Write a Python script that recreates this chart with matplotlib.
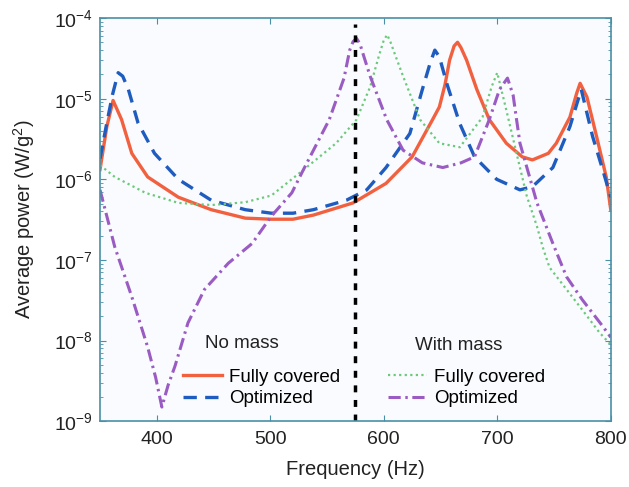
import matplotlib
matplotlib.use('Agg')
from matplotlib import pyplot
from matplotlib.lines import Line2D

# no mass, fully covered
red_freq = [350, 356, 361.5, 369, 378, 392, 419, 448, 478, 501, 520, 538, 573, 602, 625, 643, 649,
            654, 658, 662, 665, 668, 673, 682, 693, 708, 722, 731, 745, 752, 764, 770, 773, 779,
            787.5, 796, 800]
red_power = [1.32e-6, 4.5e-6, 9.5e-6, 5.5e-6, 2.1e-6, 1.07e-6, 6.0e-7, 4.2e-7, 3.3e-7, 3.2e-7, 3.2e-7,
             3.6e-7, 5.1e-7, 8.9e-7, 1.9e-6, 5.5e-6, 7.9e-6, 1.5e-5, 3.0e-5, 4.5e-5, 5.0e-5, 4.3e-5,
             3.0e-5, 1.3e-5, 5.5e-6, 2.8e-6, 1.9e-6, 1.74e-6, 2.1e-6, 2.8e-6, 5.9e-6, 1.17e-5,
             1.55e-5, 1.05e-5, 3.4e-6, 1.07e-6, 4.2e-7]

# no mass, optimized
blue_freq = [350, 356, 361, 366, 370, 375, 383.5, 398, 419, 448, 478, 501, 520, 538, 567, 585, 602,
             623, 634, 641, 645, 649, 655.5, 667, 680, 699.5, 720, 731, 749, 764, 774, 784, 793, 800]
blue_power = [1.8e-6, 5.0e-6, 1.12e-5, 2.1e-5, 1.9e-5, 1.3e-5, 5.0e-6, 2.1e-6, 1.0e-6, 5.5e-7, 4.2e-7,
              3.8e-7, 3.8e-7, 4.2e-7, 5.5e-7, 7.4e-7, 1.4e-6, 3.7e-6, 1.3e-5, 2.8e-5, 4.0e-5, 3.3e-5,
              1.55e-5, 4.9e-6, 1.9e-6, 1.0e-6, 7.4e-7, 8.1e-7, 1.4e-6, 4.5e-6, 1.3e-5, 3.4e-6,
              1.3e-6, 6.0e-7]

# with mass, fully covered
green_freq = [350, 363, 390, 419, 448.5, 478, 501, 529, 558, 576, 588, 596, 600, 603, 606, 610, 617,
              632, 649, 667, 687, 695, 700, 708, 717, 726, 735, 740, 746, 760, 775, 790, 800]
green_power = [1.5e-6, 1.07e-6, 6.8e-7, 5.1e-7, 4.8e-7, 5.2e-7, 6.3e-7, 1.3e-6, 2.8e-6, 5.5e-6, 1.4e-5,
               3.5e-5, 5.3e-5, 6.2e-5, 5.0e-5, 3.5e-5, 1.9e-5, 5.5e-6, 2.8e-6, 2.5e-6, 5.9e-6, 1.4e-5,
               2.1e-5, 7.2e-6, 2.1e-6, 6.2e-7, 2.6e-7, 1.45e-7, 8.1e-8, 4.5e-8, 2.4e-8, 1.26e-8, 8.9e-9]

# with mass, optimized
purple_freq = [350, 363, 378, 392, 399, 404.5, 410, 416, 427.5, 442, 463, 484, 501, 519, 529, 552,
               565, 570, 573, 576, 579, 582, 588, 602.6, 617, 634, 652, 668, 680, 693, 702, 709, 714,
               717, 720, 735, 749, 761, 775, 793, 800]
purple_power = [7.4e-7, 1.45e-7, 3.5e-8, 8.3e-9, 3.5e-9, 1.5e-9, 2.8e-9, 4.8e-9, 1.66e-8, 4.3e-8,
                9.1e-8, 1.6e-7, 3.5e-7, 6.8e-7, 1.3e-6, 5.5e-6, 1.8e-5, 4.0e-5, 5.1e-5, 5.6e-5, 4.8e-5,
                3.5e-5, 1.9e-5, 5.5e-6, 2.3e-6, 1.6e-6, 1.4e-6, 1.6e-6, 1.9e-6, 5.5e-6, 1.3e-5, 1.8e-5,
                1.1e-5, 5.5e-6, 2.8e-6, 5.1e-7, 1.6e-7, 6.2e-8, 3.2e-8, 1.5e-8, 1.1e-8]

marker_freq = 575

RED = '#f2613f'
BLUE = '#1f5cbf'
GREEN = '#6cc97a'
PURPLE = '#9a5cc2'
SPINE = '#4a8fa6'
INK = '#222222'
FS = 13.5


def main():
    pyplot.rcParams['font.family'] = 'Liberation Sans'
    pyplot.rcParams['mathtext.fontset'] = 'custom'
    pyplot.rcParams['mathtext.rm'] = 'Liberation Sans'
    pyplot.rcParams['mathtext.it'] = 'Liberation Sans:italic'

    fig = pyplot.figure(figsize=(6.29, 4.87), dpi=100)
    ax = fig.add_axes([0.159, 0.135, 0.812, 0.828])
    ax.set_facecolor('#fafbfe')

    ax.plot(red_freq, red_power, '-', color=RED, lw=2.4)
    ax.plot(blue_freq, blue_power, '--', color=BLUE, lw=2.4, dashes=(4, 2.5))
    ax.plot(green_freq, green_power, ':', color=GREEN, lw=1.6, dashes=(1, 1.5))
    ax.plot(purple_freq, purple_power, '-.', color=PURPLE, lw=2.2, dashes=(4, 1.5, 0.8, 1.5))
    ax.plot([marker_freq, marker_freq], [1e-9, 8.5e-5], color='black', lw=2.5, dashes=(2, 2.2))

    ax.set_yscale('log')
    ax.set_xlim(350, 800)
    ax.set_ylim(1e-9, 1e-4)
    ax.set_xticks([400, 500, 600, 700, 800])

    for side in ax.spines.values():
        side.set_color(SPINE)
        side.set_linewidth(1.2)
    ax.tick_params(which='both', direction='in', top=True, right=True, color=SPINE,
                   labelsize=14, labelcolor=INK)
    ax.tick_params(which='major', length=4)
    ax.tick_params(which='minor', length=2)
    ax.tick_params(axis='x', pad=7)
    ax.tick_params(axis='y', pad=5)

    ax.set_xlabel('Frequency (Hz)', fontsize=14.5, color=INK, labelpad=9)
    ax.set_ylabel('Average power (W/g$^2$)', fontsize=14.5, color=INK, labelpad=12)

    no_mass = [Line2D([], [], color=RED, lw=2.4),
               Line2D([], [], color=BLUE, lw=2.4, ls='--', dashes=(4, 2.5))]
    with_mass = [Line2D([], [], color=GREEN, lw=1.6, ls=':', dashes=(1, 1.5)),
                 Line2D([], [], color=PURPLE, lw=2.2, ls='-.', dashes=(4, 1.5, 0.8, 1.5))]

    leg_style = dict(loc='lower left', frameon=False, fontsize=FS, handlelength=2.1,
                     handletextpad=0.35, labelspacing=0.22, borderpad=0, borderaxespad=0)
    leg1 = ax.legend(no_mass, ['Fully covered', 'Optimized'],
                     bbox_to_anchor=(0.162, 0.035), **leg_style)
    ax.add_artist(leg1)
    ax.legend(with_mass, ['Fully covered', 'Optimized'],
              bbox_to_anchor=(0.564, 0.035), **leg_style)

    ax.text(0.205, 0.194, 'No mass', transform=ax.transAxes, fontsize=FS, color=INK, va='center')
    ax.text(0.616, 0.189, 'With mass', transform=ax.transAxes, fontsize=FS, color=INK, va='center')

    fig.savefig('out.png', dpi=100)


if __name__ == '__main__':
    main()
